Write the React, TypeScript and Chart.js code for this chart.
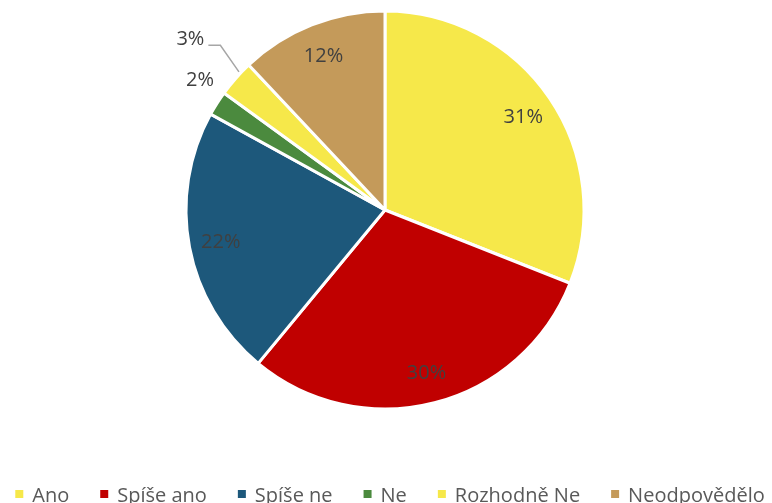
import React, { useEffect, useRef } from 'react';
import { Chart, registerables } from 'chart.js';

Chart.register(...registerables);

const categories = ['Ano', 'Spíše ano', 'Spíše ne', 'Ne', 'Rozhodně Ne', 'Neodpovědělo'];
const shares = [31, 30, 22, 2, 3, 12];
const valueLabels = ['31%', '30%', '22%', '2%', '3%', '12%'];
const sliceColors = ['#F6E84A', '#C00000', '#1D587B', '#4B8A3E', '#F6E84A', '#C49A5A'];
const labelModes = ['in', 'in', 'in', 'out', 'leader', 'in'];

const FONT = '"Open Sans", "Noto Sans", sans-serif';

const pieLabels = {
  id: 'pieLabels',
  afterDatasetsDraw(chart: any) {
    const ctx = chart.ctx as CanvasRenderingContext2D;
    const meta = chart.getDatasetMeta(0);
    const deg = Math.PI / 180;
    ctx.save();
    ctx.font = `20px ${FONT}`;
    meta.data.forEach((arc: any, i: number) => {
      const { x, y, startAngle, endAngle, outerRadius } = arc.getProps(
        ['x', 'y', 'startAngle', 'endAngle', 'outerRadius'],
        true
      );
      const mid = (startAngle + endAngle) / 2;
      const pol = (a: number, d: number) => [x + Math.cos(a) * d, y + Math.sin(a) * d];
      const mode = labelModes[i];
      ctx.fillStyle = '#404040';
      ctx.textBaseline = 'alphabetic';
      if (mode === 'in') {
        const [px, py] = pol(mid, outerRadius * 0.84);
        ctx.textAlign = 'center';
        ctx.fillText(valueLabels[i], px, py + 7);
      } else if (mode === 'out') {
        const [px, py] = pol(mid + 3 * deg, outerRadius * 1.14);
        ctx.textAlign = 'center';
        ctx.fillText(valueLabels[i], px, py + 7);
      } else {
        const [sx, sy] = pol(mid + 2 * deg, outerRadius * 1.01);
        const [ex, ey] = pol(mid + 3.6 * deg, outerRadius * 1.17);
        ctx.strokeStyle = '#A6A6A6';
        ctx.lineWidth = 1.5;
        ctx.beginPath();
        ctx.moveTo(sx, sy);
        ctx.lineTo(ex, ey);
        ctx.lineTo(ex - 12, ey);
        ctx.stroke();
        ctx.textAlign = 'right';
        ctx.fillText(valueLabels[i], ex - 16, ey);
      }
    });
    ctx.restore();
  },
};

const bottomLegend = {
  id: 'bottomLegend',
  afterDraw(chart: any) {
    const ctx = chart.ctx as CanvasRenderingContext2D;
    const labels: string[] = chart.data.labels;
    const colors: string[] = chart.data.datasets[0].backgroundColor;
    ctx.save();
    ctx.font = `20px ${FONT}`;
    const box = 8;
    const boxGap = 9;
    const itemGap = 31;
    const widths = labels.map((c) => ctx.measureText(c).width);
    const total =
      widths.reduce((a, w) => a + box + boxGap + w, 0) + itemGap * (labels.length - 1);
    let x = 390 - total / 2;
    const baseY = 502;
    labels.forEach((c, i) => {
      ctx.fillStyle = colors[i];
      ctx.fillRect(x, 490, box, box);
      x += box + boxGap;
      ctx.fillStyle = '#595959';
      ctx.textAlign = 'left';
      ctx.textBaseline = 'alphabetic';
      ctx.fillText(c, x, baseY);
      x += widths[i] + itemGap;
    });
    ctx.restore();
  },
};

export default function App() {
  const canvasRef = useRef<HTMLCanvasElement | null>(null);

  useEffect(() => {
    if (!canvasRef.current) return;
    const chart = new Chart(canvasRef.current, {
      type: 'pie',
      data: {
        labels: categories,
        datasets: [
          {
            data: shares,
            backgroundColor: sliceColors,
            borderColor: '#FFFFFF',
            borderWidth: 3,
            radius: 199,
          } as any,
        ],
      },
      options: {
        animation: false,
        responsive: true,
        maintainAspectRatio: false,
        layout: { padding: { top: 10, bottom: 93, left: 0, right: 2 } },
        plugins: {
          legend: { display: false },
          tooltip: { enabled: false },
        },
      },
      plugins: [pieLabels, bottomLegend],
    });
    return () => chart.destroy();
  }, []);

  return (
    <div style={{ position: 'fixed', left: 0, top: 0, width: 772, height: 503, background: '#fff' }}>
      <canvas ref={canvasRef} />
    </div>
  );
}
